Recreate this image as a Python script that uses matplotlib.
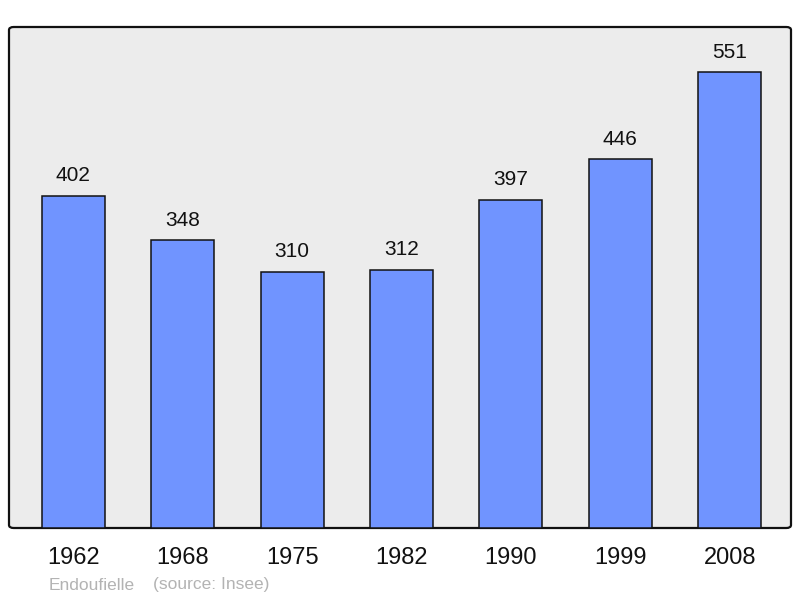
import matplotlib
matplotlib.use('Agg')
from matplotlib import pyplot as plt
from matplotlib.patches import FancyBboxPatch

plt.rcParams['font.family'] = ['Liberation Sans', 'DejaVu Sans']

years = ['1962', '1968', '1975', '1982', '1990', '1999', '2008']
population = [402, 348, 310, 312, 397, 446, 551]
commune = 'Endoufielle'
source = '(source: Insee)'

fig = plt.figure(figsize=(8, 5.98), dpi=100)
ax = fig.add_axes([9 / 800, 70 / 598, 782 / 800, 501 / 598])
ax.set_facecolor('none')

# cadre gris aux coins arrondis
cadre = FancyBboxPatch((0, 0), 1, 1, boxstyle='round,pad=0,rounding_size=0.006',
                       transform=ax.transAxes, facecolor='#ececec',
                       edgecolor='#111111', linewidth=1.6, zorder=0, clip_on=False)
ax.add_patch(cadre)
for s in ax.spines.values():
    s.set_visible(False)

x = range(len(years))
b = ax.bar(x, population, width=0.576, color='#7094ff', edgecolor='#111111',
           linewidth=1.1, zorder=2)

# valeurs au-dessus des barres
for rect in b:
    h = rect.get_height()
    ax.annotate('%d' % int(h), (rect.get_x() + rect.get_width() / 2, h),
                xytext=(0, 14.5), textcoords='offset points',
                ha='center', va='center', fontsize=15, color='#111111')

ax.set_xlim(-0.588, 6.56)
ax.set_ylim(0, 606)
ax.set_xticks(list(x))
ax.set_xticklabels(years, fontsize=17, color='#111111')
ax.tick_params(axis='x', length=0, pad=13.5)
ax.set_yticks([])

fig.text(49 / 800, 1 - 585 / 598, commune, fontsize=12.5, color='#b3b3b3', va='center')
fig.text(153 / 800, 1 - 585 / 598, source, fontsize=12.5, color='#b3b3b3', va='center')

plt.savefig('out.png', dpi=100)
plt.close()
